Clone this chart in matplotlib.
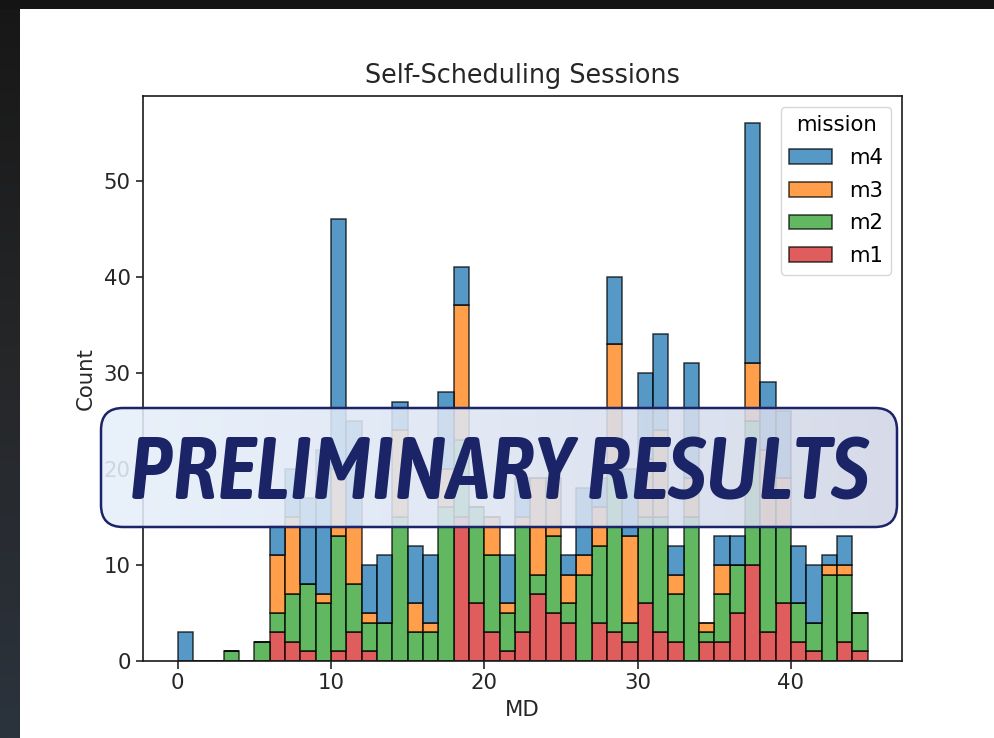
import os
import numpy as np
import matplotlib
matplotlib.use("Agg")
import matplotlib.pyplot as plt
from matplotlib.patches import FancyBboxPatch, Patch
from matplotlib.colors import LinearSegmentedColormap
from matplotlib import font_manager as fm
from matplotlib.textpath import TextPath

# ---------------- data (counts per MD bin, bins of width 1 from 0 to 45) ----------------
md_bins = list(range(45))
m1 = [0, 0, 0, 0, 0, 0, 3, 2, 1, 0, 1, 3, 1, 0, 0, 0, 0, 0, 15, 6, 3, 1, 3, 7, 5,
      4, 0, 4, 3, 2, 6, 3, 2, 0, 2, 2, 5, 10, 3, 6, 2, 1, 0, 2, 1]
m2 = [0, 0, 0, 1, 0, 2, 2, 5, 7, 6, 12, 5, 3, 4, 15, 3, 3, 16, 8, 10, 8, 4, 11, 2, 8,
      2, 9, 8, 17, 2, 9, 12, 5, 15, 1, 5, 5, 15, 11, 8, 4, 3, 9, 7, 4]
m3 = [0, 0, 0, 0, 0, 0, 6, 8, 0, 1, 7, 6, 1, 0, 9, 3, 1, 4, 14, 0, 4, 1, 1, 10, 6,
      3, 2, 4, 13, 9, 6, 9, 2, 4, 1, 3, 0, 6, 8, 5, 0, 0, 1, 1, 0]
m4 = [3, 0, 0, 0, 0, 0, 3, 5, 9, 15, 26, 11, 5, 7, 3, 6, 7, 8, 4, 0, 0, 5, 4, 0, 0,
      2, 7, 3, 7, 7, 9, 10, 3, 12, 0, 3, 3, 25, 7, 7, 6, 6, 1, 3, 0]
missions = ["m4", "m3", "m2", "m1"]
series = {"m4": m4, "m3": m3, "m2": m2, "m1": m1}
colors = {"m4": "#1f77b4", "m3": "#ff7f0e", "m2": "#2ca02c", "m1": "#d62728"}

title = "Self-Scheduling Sessions"
xlabel = "MD"
ylabel = "Count"
overlay_text = "PRELIMINARY RESULTS"

# ---------------- figure ----------------
W, H = 994, 738
fig = plt.figure(figsize=(W / 100, H / 100), dpi=100)
fig.patch.set_facecolor("white")

# dark screenshot borders
bg = fig.add_axes([0, 0, 1, 1], zorder=-5)
bg.set_xlim(0, W); bg.set_ylim(H, 0); bg.axis("off")
left_cmap = LinearSegmentedColormap.from_list("lc", ["#171717", "#262729", "#2b333d"])
bg.imshow(np.linspace(0, 1, 256).reshape(-1, 1), cmap=left_cmap, extent=[0, 20, H, 0], aspect="auto")
bg.add_patch(plt.Rectangle((0, 0), W, 8.5, color="#141414", lw=0))

FS = 15.3
ax = fig.add_axes([143 / W, 77 / H, 759 / W, 565 / H])
bottom = np.zeros(len(md_bins))
for name in ["m1", "m2", "m3", "m4"]:
    vals = np.array(series[name], dtype=float)
    ax.bar(md_bins, vals, width=1.0, align="edge", bottom=bottom,
           color=colors[name], alpha=0.75, edgecolor="black", linewidth=1.1)
    bottom += vals

ax.set_xlim(-2.25, 47.25)
ax.set_ylim(0, 58.8)
ax.set_xticks([0, 10, 20, 30, 40])
ax.set_yticks([0, 10, 20, 30, 40, 50])
ax.tick_params(labelsize=FS, length=5.4, width=1.2, colors="#262626", labelcolor="#262626")
for s in ax.spines.values():
    s.set_linewidth(1.2)
    s.set_color("#1a1a1a")
ax.set_title(title, fontsize=18.4, pad=9.5, color="#262626")
ax.set_xlabel(xlabel, fontsize=FS, color="#262626", labelpad=5)
ax.set_ylabel(ylabel, fontsize=FS, color="#262626", labelpad=6)

handles = [Patch(facecolor=colors[m], alpha=0.75, edgecolor="black", linewidth=1.1) for m in missions]
leg = ax.legend(handles, missions, title="mission", loc="upper right", fontsize=FS,
                title_fontsize=FS, handlelength=2.0, borderaxespad=0.5, labelspacing=0.6)

# ---------------- overlay banner ----------------
ov = fig.add_axes([0, 0, 1, 1], zorder=10)
ov.set_xlim(0, W); ov.set_ylim(H, 0); ov.axis("off")
bx0, by0, bx1, by1 = 101, 408, 897, 527
box = FancyBboxPatch((bx0, by0), bx1 - bx0, by1 - by0,
                     boxstyle="round,pad=0,rounding_size=22",
                     facecolor="none", edgecolor="none")
ov.add_patch(box)
grad_cmap = LinearSegmentedColormap.from_list("gc", ["#e6effb", "#dde5f3", "#d2d7e7"])
im = ov.imshow(np.linspace(0, 1, 256).reshape(1, -1), cmap=grad_cmap,
               extent=[bx0, bx1, by1, by0], aspect="auto", alpha=0.88)
im.set_clip_path(box)
edge = FancyBboxPatch((bx0, by0), bx1 - bx0, by1 - by0,
                      boxstyle="round,pad=0,rounding_size=22",
                      facecolor="none", edgecolor="#1b2466", linewidth=1.8)
ov.add_patch(edge)

# choose a condensed (semi)bold italic sans for the banner lettering
target_w, target_h = 737.0, 63.0
target_ratio = target_w / target_h


def weight_num(wt):
    if isinstance(wt, str):
        return {"bold": 700, "semibold": 600, "demibold": 600, "extra bold": 800,
                "heavy": 800, "black": 900, "normal": 400, "regular": 400,
                "medium": 500}.get(wt.lower(), 400)
    return int(wt)


cands = []
seen = set()
for f in fm.fontManager.ttflist:
    if f.fname in seen:
        continue
    seen.add(f.fname)
    key = (f.name + " " + os.path.basename(f.fname) + " " + str(f.stretch)).lower()
    if any(k in key for k in ("mono", "serif", "cjk", "math", "symbol", "stix", "cmr", "cmex")):
        continue
    if f.style not in ("italic", "oblique"):
        continue
    wn = weight_num(f.weight)
    if wn not in (600, 700):
        continue
    try:
        fpc = fm.FontProperties(fname=f.fname)
        ext = TextPath((0, 0), overlay_text, prop=fpc, size=100).get_extents()
    except Exception:
        continue
    if ext.height <= 0 or ext.width <= 0:
        continue
    ratio = ext.width / ext.height
    score = abs(np.log(ratio / target_ratio))
    cond = ("condens" in key) or ("narrow" in key)
    extreme = any(k in key for k in ("extra", "ultra", "semicond"))
    if cond and not extreme:
        tier = 0 if wn == 600 else 1
    elif cond:
        tier = 2
    else:
        tier = 3
    cands.append((tier, score, f.fname, ext.width))

if cands:
    choice = sorted(cands)[0]
    fp = fm.FontProperties(fname=choice[2])
    w100 = choice[3]
else:
    fp = fm.FontProperties(family="DejaVu Sans", weight="bold", style="italic")
    w100 = TextPath((0, 0), overlay_text, prop=fp, size=100).get_extents().width
fsize = 100 * target_w / (w100 * 100 / 72.0)

txt = ov.text((bx0 + bx1) / 2, 500, overlay_text, ha="center", va="baseline",
              color="#1b2466", fontproperties=fp, fontsize=fsize)

fig.savefig("out.png", dpi=100)
